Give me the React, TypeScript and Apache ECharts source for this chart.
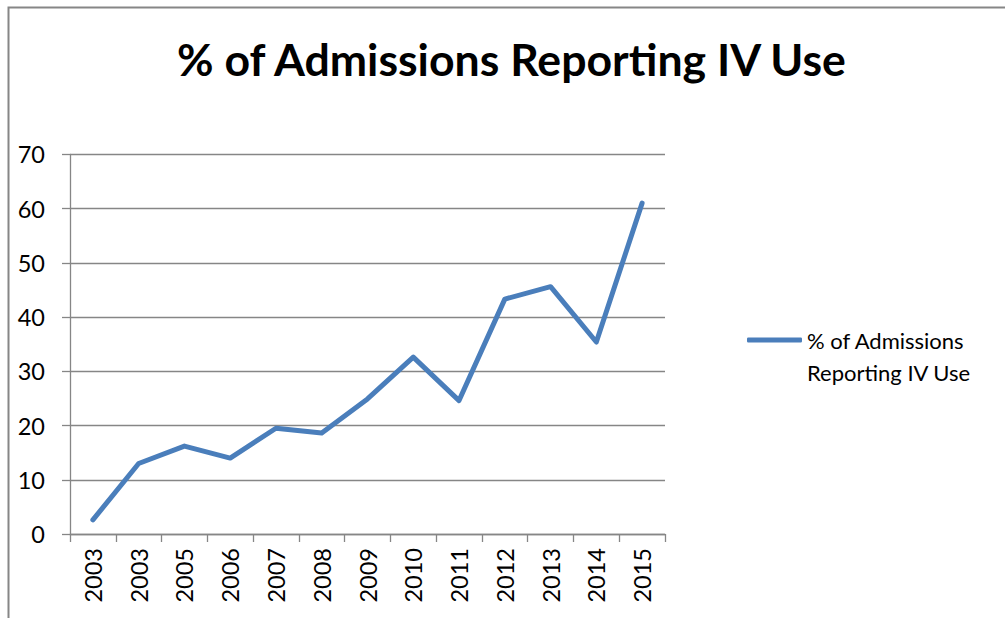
import React, { useEffect, useRef } from "react";
import * as echarts from "echarts";

const categories = ["2003", "2003", "2005", "2006", "2007", "2008", "2009", "2010", "2011", "2012", "2013", "2014", "2015"];
const ivUse = [2.6, 13.0, 16.2, 14.0, 19.5, 18.6, 24.9, 32.6, 24.6, 43.3, 45.6, 35.4, 61.0];
const seriesName = "% of Admissions Reporting IV Use";
const yTicks = { min: 0, max: 70, interval: 10 };

export default function App() {
  const ref = useRef<HTMLDivElement>(null);
  useEffect(() => {
    if (!ref.current) return;
    const chart = echarts.init(ref.current, undefined, { renderer: "svg" });
    const font = "Lato, 'Open Sans', sans-serif";
    const gray = "#868686";
    const blue = "#4a7ebb";
    chart.setOption({
      animation: false,
      backgroundColor: "#ffffff",
      title: {
        text: seriesName,
        left: 177,
        top: 31,
        padding: [5, 0, 5, 0],
        textStyle: { fontFamily: font, fontWeight: "bold", fontSize: 44.6, color: "#000" },
      },
      graphic: [
        {
          type: "rect",
          shape: { x: 8.5, y: 7.5, width: 1010, height: 630 },
          style: { fill: "none", stroke: gray, lineWidth: 2 },
          silent: true,
        },
      ],
      legend: {
        orient: "vertical",
        left: 747,
        top: 292,
        padding: 0,
        itemWidth: 55,
        itemHeight: 5,
        data: [{ name: seriesName, icon: "roundRect" }],
        formatter: () => " \n% of Admissions\nReporting IV Use",
        textStyle: { fontFamily: font, fontSize: 22, color: "#000", lineHeight: 32 },
        itemStyle: { color: blue },
      },
      grid: { left: 70, right: 340, top: 154.3, bottom: 84, containLabel: false },
      xAxis: {
        type: "category",
        data: categories,
        boundaryGap: true,
        axisLine: { lineStyle: { color: gray, width: 1.3 } },
        axisTick: { show: true, length: 8, alignWithLabel: false, lineStyle: { color: gray, width: 1.3 } },
        axisLabel: { rotate: 90, fontFamily: font, fontSize: 23.5, color: "#000", margin: 14, interval: 0 },
        splitLine: { show: false },
      },
      yAxis: {
        type: "value",
        min: yTicks.min,
        max: yTicks.max,
        interval: yTicks.interval,
        axisLine: { show: true, lineStyle: { color: gray, width: 1.3 } },
        axisTick: { show: true, length: 8, lineStyle: { color: gray, width: 1.3 } },
        axisLabel: { fontFamily: font, fontSize: 23.5, color: "#000", margin: 25 },
        splitLine: { show: true, lineStyle: { color: gray, width: 1.3 } },
      },
      series: [
        {
          name: seriesName,
          type: "line",
          data: ivUse,
          showSymbol: false,
          symbol: "none",
          lineStyle: { color: blue, width: 5, cap: "round", join: "round" },
          itemStyle: { color: blue },
        },
      ],
    });
    return () => chart.dispose();
  }, []);
  return <div ref={ref} style={{ position: "fixed", left: 0, top: 0, width: 1005, height: 618 }} />;
}
